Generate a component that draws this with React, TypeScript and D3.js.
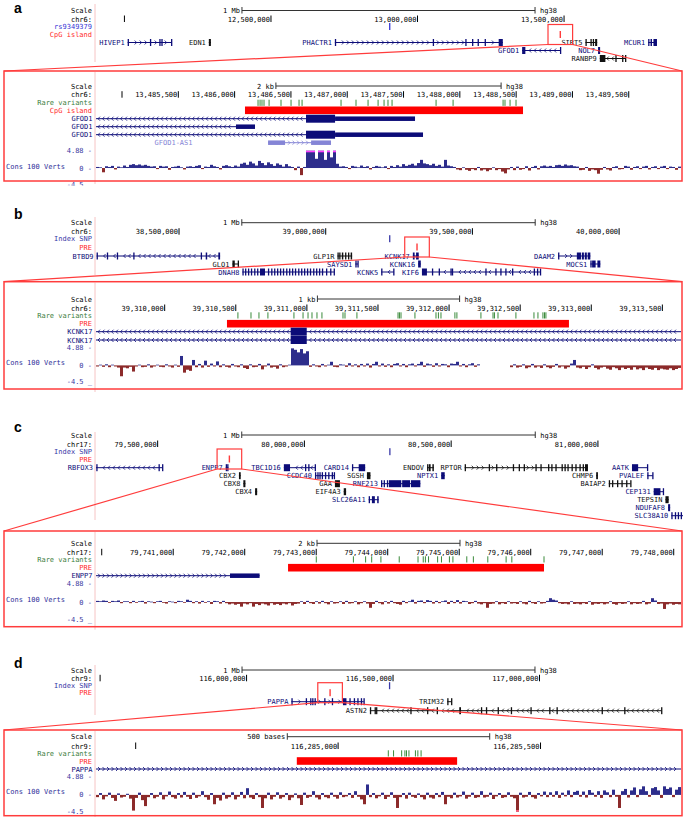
import React from "react";
import * as d3 from "d3";

type Exon = [number, number];
type Gene = { name: string; start: number; end: number; row: number; strand: number; kind: string; exons: Exon[] };
type Block = [number, number, number];
type Transcript = { name: string; start: number; end: number; row: number; strand: number; kind: string; blocks: Block[] };

// ================= DATA =================
const panelIds = ["a", "b", "c", "d"];
const chromNames = ["chr6", "chr6", "chr17", "chr9"];
const snpLabels = ["rs9349379", "Index SNP", "Index SNP", "Index SNP"];
const elementLabels = ["CpG island", "PRE", "PRE", "PRE"];

// overview windows (Mb)
const overviewDomainsMb: number[][] = [[11.903, 13.899], [38.217, 40.211], [79.29, 81.283], [115.486, 117.483]];
const overviewTickStep = 500000;
const overviewScaleBar = 1000000;
const overviewScaleLabel = "1 Mb";
const snpPositionsMb = [12.905, 39.218, 80.291, 116.488];
const elementOverviewMb = [13.4872, 39.3112, 79.7444, 116.2851];

const genesA: Gene[] = [
  { name: "HIVEP1", start: 12.011, end: 12.162, row: 0, strand: 1, kind: "coding", exons: [[12.011, 12.013], [12.087, 12.088], [12.119, 12.12], [12.126, 12.127], [12.159, 12.162]] },
  { name: "EDN1", start: 12.288, end: 12.295, row: 0, strand: 1, kind: "other", exons: [[12.288, 12.295]] },
  { name: "PHACTR1", start: 12.718, end: 13.291, row: 0, strand: 1, kind: "coding", exons: [[12.718, 12.72], [13.052, 13.053], [13.163, 13.164], [13.186, 13.187], [13.205, 13.206], [13.229, 13.23], [13.277, 13.291]] },
  { name: "GFOD1", start: 13.357, end: 13.487, row: 1, strand: -1, kind: "coding", exons: [[13.357, 13.368], [13.486, 13.487]] },
  { name: "SIRT5", start: 13.573, end: 13.613, row: 0, strand: 1, kind: "other", exons: [[13.573, 13.575], [13.59, 13.593], [13.598, 13.6], [13.606, 13.613]] },
  { name: "NOL7", start: 13.616, end: 13.623, row: 1, strand: 1, kind: "coding", exons: [[13.616, 13.623]] },
  { name: "RANBP9", start: 13.622, end: 13.709, row: 2, strand: -1, kind: "other", exons: [[13.622, 13.641], [13.675, 13.676], [13.698, 13.699], [13.708, 13.709]] },
  { name: "MCUR1", start: 13.787, end: 13.817, row: 0, strand: -1, kind: "coding", exons: [[13.787, 13.79], [13.795, 13.8], [13.805, 13.817]] },
];

const genesB: Gene[] = [
  { name: "BTBD9", start: 38.219, end: 38.64, row: 0, strand: -1, kind: "coding", exons: [[38.219, 38.22], [38.254, 38.255], [38.288, 38.289], [38.344, 38.345], [38.574, 38.578], [38.591, 38.596], [38.634, 38.64]] },
  { name: "GLO1", start: 38.682, end: 38.702, row: 1, strand: -1, kind: "other", exons: [[38.682, 38.69], [38.7, 38.702]] },
  { name: "DNAH8", start: 38.716, end: 39.028, row: 2, strand: 1, kind: "coding", exons: [[38.716, 38.717], [38.725, 38.726], [38.735, 38.736], [38.745, 38.746], [38.756, 38.757], [38.766, 38.767], [38.776, 38.793], [38.803, 38.804], [38.814, 38.815], [38.824, 38.825], [38.834, 38.835], [38.844, 38.845], [38.854, 38.855], [38.865, 38.866], [38.875, 38.876], [38.885, 38.886], [38.895, 38.896], [38.906, 38.907], [38.916, 38.917], [38.926, 38.927], [38.936, 38.937], [38.946, 38.947], [38.957, 38.958], [38.967, 38.968], [38.977, 38.978], [38.987, 38.988], [39.001, 39.002], [39.015, 39.016], [39.027, 39.028]] },
  { name: "GLP1R", start: 39.04, end: 39.09, row: 0, strand: 1, kind: "other", exons: [[39.04, 39.041], [39.046, 39.05], [39.055, 39.06], [39.066, 39.07], [39.076, 39.08], [39.085, 39.09]] },
  { name: "SAYSD1", start: 39.101, end: 39.11, row: 1, strand: 1, kind: "coding", exons: [[39.101, 39.102], [39.108, 39.11]] },
  { name: "KCNK5", start: 39.189, end: 39.232, row: 2, strand: -1, kind: "coding", exons: [[39.189, 39.191], [39.23, 39.232]] },
  { name: "KCNK17", start: 39.297, end: 39.317, row: 0, strand: -1, kind: "coding", exons: [[39.297, 39.303], [39.308, 39.317]] },
  { name: "KCNK16", start: 39.315, end: 39.324, row: 1, strand: -1, kind: "coding", exons: [[39.315, 39.324]] },
  { name: "KIF6", start: 39.328, end: 39.731, row: 2, strand: -1, kind: "coding", exons: [[39.328, 39.345], [39.362, 39.363], [39.385, 39.386], [39.425, 39.426], [39.43, 39.431], [39.544, 39.546], [39.578, 39.579], [39.595, 39.596], [39.612, 39.613], [39.635, 39.636], [39.709, 39.71], [39.72, 39.721], [39.73, 39.731]] },
  { name: "DAAM2", start: 39.792, end: 39.902, row: 0, strand: 1, kind: "coding", exons: [[39.792, 39.793], [39.856, 39.87], [39.873, 39.88], [39.883, 39.89], [39.893, 39.902]] },
  { name: "MOCS1", start: 39.902, end: 39.936, row: 1, strand: 1, kind: "coding", exons: [[39.902, 39.904], [39.908, 39.92], [39.926, 39.936]] },
];

const genesC: Gene[] = [
  { name: "RBFOX3", start: 79.29, end: 79.516, row: 0, strand: -1, kind: "coding", exons: [[79.291, 79.292], [79.503, 79.504], [79.515, 79.516]] },
  { name: "ENPP7", start: 79.732, end: 79.741, row: 0, strand: 1, kind: "coding", exons: [[79.732, 79.735], [79.737, 79.741]] },
  { name: "CBX2", start: 79.777, end: 79.783, row: 1, strand: 1, kind: "other", exons: [[79.777, 79.783]] },
  { name: "CBX8", start: 79.792, end: 79.799, row: 2, strand: -1, kind: "other", exons: [[79.792, 79.799]] },
  { name: "CBX4", start: 79.832, end: 79.839, row: 3, strand: -1, kind: "other", exons: [[79.832, 79.839]] },
  { name: "TBC1D16", start: 79.93, end: 80.036, row: 0, strand: -1, kind: "coding", exons: [[79.93, 79.951], [80.002, 80.003], [80.013, 80.014], [80.035, 80.036]] },
  { name: "CCDC40", start: 80.036, end: 80.101, row: 1, strand: 1, kind: "coding", exons: [[80.036, 80.037], [80.044, 80.045], [80.051, 80.052], [80.059, 80.06], [80.07, 80.071], [80.081, 80.082], [80.093, 80.094], [80.1, 80.101]] },
  { name: "GAA", start: 80.104, end: 80.121, row: 2, strand: 1, kind: "other", exons: [[80.104, 80.121]] },
  { name: "EIF4A3", start: 80.134, end: 80.142, row: 3, strand: 1, kind: "other", exons: [[80.134, 80.142]] },
  { name: "CARD14", start: 80.162, end: 80.207, row: 0, strand: 1, kind: "coding", exons: [[80.162, 80.165], [80.185, 80.207]] },
  { name: "SGSH", start: 80.213, end: 80.225, row: 1, strand: -1, kind: "other", exons: [[80.213, 80.225]] },
  { name: "SLC26A11", start: 80.219, end: 80.253, row: 4, strand: 1, kind: "coding", exons: [[80.219, 80.222], [80.23, 80.24], [80.248, 80.253]] },
  { name: "RNF213", start: 80.261, end: 80.395, row: 2, strand: 1, kind: "coding", exons: [[80.261, 80.262], [80.27, 80.271], [80.281, 80.282], [80.288, 80.33], [80.333, 80.36], [80.363, 80.395]] },
  { name: "ENDOV", start: 80.418, end: 80.441, row: 0, strand: 1, kind: "other", exons: [[80.418, 80.42], [80.424, 80.43], [80.436, 80.441]] },
  { name: "NPTX1", start: 80.466, end: 80.478, row: 1, strand: -1, kind: "coding", exons: [[80.466, 80.478]] },
  { name: "RPTOR", start: 80.546, end: 80.966, row: 0, strand: 1, kind: "other", exons: [[80.546, 80.547], [80.628, 80.629], [80.653, 80.654], [80.71, 80.711], [80.73, 80.731], [80.747, 80.748], [80.787, 80.788], [80.804, 80.805], [80.83, 80.831], [80.841, 80.842], [80.855, 80.856], [80.876, 80.88], [80.886, 80.89], [80.896, 80.9], [80.91, 80.914], [80.923, 80.924], [80.937, 80.938], [80.948, 80.949], [80.956, 80.966]] },
  { name: "CHMP6", start: 80.994, end: 81.0, row: 1, strand: 1, kind: "other", exons: [[80.994, 81.0]] },
  { name: "BAIAP2", start: 81.037, end: 81.111, row: 2, strand: 1, kind: "other", exons: [[81.037, 81.038], [81.048, 81.049], [81.065, 81.066], [81.08, 81.081], [81.096, 81.097], [81.11, 81.111]] },
  { name: "AATK", start: 81.116, end: 81.168, row: 0, strand: -1, kind: "coding", exons: [[81.116, 81.137], [81.167, 81.168]] },
  { name: "PVALEF", start: 81.168, end: 81.187, row: 1, strand: 1, kind: "coding", exons: [[81.168, 81.169], [81.185, 81.187]] },
  { name: "CEP131", start: 81.19, end: 81.224, row: 3, strand: -1, kind: "coding", exons: [[81.19, 81.213], [81.221, 81.223]] },
  { name: "TEPSIN", start: 81.23, end: 81.241, row: 4, strand: -1, kind: "other", exons: [[81.23, 81.241]] },
  { name: "NDUFAF8", start: 81.239, end: 81.246, row: 5, strand: 1, kind: "coding", exons: [[81.239, 81.246]] },
  { name: "SLC38A10", start: 81.25, end: 81.291, row: 6, strand: -1, kind: "coding", exons: [[81.25, 81.252], [81.262, 81.264], [81.272, 81.274], [81.282, 81.284]] },
];

const genesD: Gene[] = [
  { name: "PAPPA", start: 116.153, end: 116.4, row: 0, strand: 1, kind: "coding", exons: [[116.153, 116.155], [116.202, 116.203], [116.217, 116.218], [116.224, 116.225], [116.232, 116.233], [116.265, 116.266], [116.291, 116.292], [116.329, 116.341], [116.351, 116.352], [116.366, 116.367], [116.378, 116.379], [116.39, 116.391], [116.399, 116.4]] },
  { name: "TRIM32", start: 116.685, end: 116.7, row: 0, strand: 1, kind: "other", exons: [[116.685, 116.686], [116.698, 116.7]] },
  { name: "ASTN2", start: 116.421, end: 117.416, row: 1, strand: -1, kind: "other", exons: [[116.421, 116.422], [116.437, 116.438], [116.442, 116.443], [116.559, 116.56], [116.616, 116.617], [116.649, 116.65], [116.726, 116.732], [116.8, 116.801], [116.817, 116.818], [116.857, 116.858], [116.902, 116.903], [116.969, 116.97], [117.033, 117.034], [117.058, 117.059], [117.212, 117.213], [117.289, 117.29], [117.415, 117.416]] },
];

// detail windows (bp)
const detailDomains: number[][] = [[13484769, 13489964], [39309517, 39313631], [79739920, 79748102], [116284402, 116285847]];
const detailTickSteps = [500, 500, 1000, 500];
const detailScaleBars = [2000, 1000, 2000, 500];
const detailScaleLabels = ["2 kb", "1 kb", "2 kb", "500 bases"];
const elementRegions: number[][] = [[13486092, 13488561], [39310438, 39312843], [79742606, 79746186], [116284898, 116285294]];

const rareVariantsA = [13486208, 13486226, 13486243, 13486261, 13486306, 13486412, 13486501, 13486572, 13486599, 13486945, 13487078, 13487185, 13487274, 13487327, 13487362, 13487398, 13487789, 13487940, 13488384, 13488401, 13488446, 13488499];
const rareVariantsB = [39310515, 39310607, 39310663, 39310726, 39310909, 39310973, 39311008, 39311036, 39311071, 39311106, 39311254, 39311268, 39311352, 39311641, 39311651, 39311662, 39311760, 39311908, 39311925, 39311943, 39312041, 39312055, 39312224, 39312309, 39312319, 39312344, 39312470, 39312597, 39312625, 39312660, 39312671, 39312681];
const rareVariantsC = [79743001, 79743520, 79743691, 79743776, 79743905, 79744161, 79744424, 79744497, 79744527, 79744571, 79744698, 79744752, 79744863, 79744912, 79745106, 79745198, 79745400, 79745656, 79745736, 79746186];
const rareVariantsD = [116285124, 116285137, 116285157, 116285165, 116285169, 116285175, 116285191, 116285197, 116285205];

const transcriptsA: Transcript[] = [
  { name: "GFOD1", start: 13484700, end: 13487602, row: 0, strand: -1, kind: "coding", blocks: [[13486634, 13486892, 1], [13486892, 13487602, 0]] },
  { name: "GFOD1", start: 13484700, end: 13486181, row: 1, strand: -1, kind: "coding", blocks: [[13486012, 13486181, 0]] },
  { name: "GFOD1", start: 13484700, end: 13487673, row: 2, strand: -1, kind: "coding", blocks: [[13486634, 13486892, 1], [13486892, 13487673, 0]] },
  { name: "GFOD1-AS1", start: 13486297, end: 13486856, row: 3, strand: 1, kind: "nc", blocks: [[13486297, 13486448, 0], [13486679, 13486856, 0]] },
];
const transcriptsB: Transcript[] = [
  { name: "KCNK17", start: 39309400, end: 39313700, row: 0, strand: -1, kind: "coding", blocks: [[39310886, 39310999, 1]] },
  { name: "KCNK17", start: 39309400, end: 39313700, row: 1, strand: -1, kind: "coding", blocks: [[39310886, 39310999, 1]] },
];
const transcriptsC: Transcript[] = [
  { name: "ENPP7", start: 79739800, end: 79742208, row: 0, strand: 1, kind: "coding", blocks: [[79741794, 79742208, 0]] },
];
const transcriptsD: Transcript[] = [
  { name: "PAPPA", start: 116284300, end: 116286000, row: 0, strand: 1, kind: "coding", blocks: [] },
];

// Cons 100 Verts (phyloP), read across each detail window
const consA: (number | null)[] = [
  .3, .2, -1.2, .5, .3, .6, -.4, .4, .2, .7,
  .3, .9, 1.1, .8, 1.0, .7, .9, .6, .4, .5,
  -.3, .6, .4, .5, -.5, .3, .4, .6, .2, -.4,
  .4, .5, .3, .6, .8, -.3, .4, .3, .9, .5,
  .3, -.4, .6, .8, .5, .3, .7, .4, 1.2, 1.5,
  .9, 1.8, 1.3, .7, 2.0, 1.4, .8, 1.6, 1.1, .6,
  1.3, .9, .4, 1.1, .5, .3, -.6, .4, -2.0, .3,
  5.6, 5.6, 5.4, 2.6, 5.6, 5.2, 2.3, 5.6, 3.0, 5.6,
  1.2, .4, .5, .3, -.3, .6, .4, .2, .7, .3,
  .5, -.4, .3, .6, .4, .2, .5, -.3, .6, .3,
  .8, .4, 1.1, .6, .9, 1.2, .7, 1.4, 2.3, 1.3,
  1.1, .8, 1.2, .6, .9, .4, 2.3, .7, .5, .3,
  -.4, -.6, .2, -.5, -.8, -.3, -.6, .3, -.7, -.4,
  -.9, -.5, .2, -.6, -.3, -1.0, -1.5, -.4, .3, -.6,
  .4, -.5, -.3, .5, -.7, .3, .6, -.4, .5, .7,
  .4, .6, .3, .8, .9, .6, 1.0, .7, .8, .5,
  .4, -.6, -.5, .3, -.8, -.4, -.6, -1.6, -.5, .3,
  -.4, -.7, .3, .5, -.4, -.3, .6, .4, -.5, .3,
  .5, -.3, .4, .6, -.4, .3, .5, -.3, .4, .6,
  -.3, .4, .3, -.5, .4,
];
const consB: (number | null)[] = [
  -.3, .2, -.4, .3, -.5, .2, -.3, -.6, -3.0, -.6,
  -.8, -.4, -1.7, -.3, .2, -.5, -.4, .3, -.6, -.3,
  .2, -.4, -.5, .3, -.3, -.6, .2, -.4, 2.6, -2.0,
  -1.2, -1.5, 1.5, -.5, .4, -.6, 1.3, -.4, .5, -.3,
  1.1, -.5, .3, -.4, -.6, .4, -.3, -.5, .3, -.7,
  -1.0, .3, -.5, -.4, .4, -1.1, -.3, .5, -.6, -.4,
  -.9, .3, -.5, -.3, .2, 4.7, 4.3, 3.6, 4.5, 3.3,
  3.9, -.4, .3, -.3, -.5, .4, -.3, .2, 1.0, -.4,
  -.5, .3, .2, -.4, .6, -.3, .3, -.5, .4, -.3,
  .5, -.6, .4, 1.0, -.3, .5, -.4, .3, -.5, .4,
  .6, -.3, .4, -.5, .3, .5, -.3, .4, 1.0, -.4,
  .5, .3, -.4, .6, -.3, .4, .3, -.5, .5, .4,
  1.0, -.3, .4, -.5, .3, .6, -.4, .3, null, null,
  null, null, null, null, null, null, null, null, -.5, .3,
  -.6, -.4, .3, -.8, -.5, .4, -.6, -.3, -.7, .3,
  -.5, -.8, -.4, .4, -.6, -.3, -.9, -.5, .5, 1.5,
  -.6, -.8, -.4, -1.0, -.5, .3, -.7, -1.1, -.6, -.4,
  -.9, -1.2, -.5, -.8, -1.3, -.6, -1.0, -.7, -1.2, -.5,
  -1.1, -.8, -1.3, -.6, -1.0, -1.2, -.7, -1.3, -.9, -1.1,
  -1.2, -.8, -1.3, -1.0, -.7,
];
const consC: (number | null)[] = [
  .3, .2, .4, .3, -.2, .3, .2, .4, -.3, .2,
  .2, -.3, .3, -.2, .2, .3, -.4, .2, .1, -.3,
  .2, .3, -.2, -.4, .2, .1, -.3, .3, .2, -.2,
  .6, .3, -.3, .2, -.4, .3, -.2, .2, -.5, .3,
  .2, -.4, .3, -.3, -.6, -.4, -.7, -.5, -1.2, -.4,
  -.6, -.3, -1.2, -.5, -.8, -.4, -.6, -.9, -.3, -.7,
  -.5, -.8, -.4, -.6, -.3, -.9, -.5, -.4, .2, -.5,
  .3, -.3, -.5, .2, -.4, .3, -.3, -.6, .2, -.4,
  -.3, .2, -.5, .3, -.4, -.3, .2, -.6, -.3, .2,
  -.4, -1.5, -.5, .3, -.3, -.6, .2, -.4, .3, -.3,
  -.5, -.7, .3, -.3, .2, .6, -.4, .3, .4, -.3,
  .5, .3, -.4, .3, -.3, .2, .4, -.5, .3, -.3,
  .5, -.4, .3, .2, -.5, -.3, .3, -.4, -.6, -.3,
  -1.5, -.5, -.4, .2, -.6, -.3, -.5, .2, -.4, -.3,
  -.5, .2, -.4, -.6, .3, -.3, -.5, .2, -.4, -.3,
  .3, 1.0, .6, .4, -.3, -.5, -.4, -.6, .2, -.5,
  -.4, -.6, -.3, -.5, .2, -.7, -.4, -.5, -.3, -.6,
  -.4, .2, -.5, -.7, -.3, -.5, -.4, .2, -.6, -.3,
  -.5, -.4, .3, -.6, -.4, 1.0, .4, -.5, -.4, -1.8,
  -.6, -.4, -.7, -.5, -.6,
];
const consD: (number | null)[] = [
  -.6, .5, -1.2, -.4, .6, -.8, -1.6, .4, -.7, -.5,
  .3, -1.0, -4.2, -.8, .6, -1.4, -3.0, -.6, .5, -.9,
  -.5, .7, -1.2, -.4, .9, -.6, -1.0, .5, -.7, .8,
  -.5, -1.1, .6, -.8, -.4, 1.0, -.6, -1.3, .5, -2.5,
  -.8, -1.5, .6, -1.0, -.6, .7, -1.2, -.5, .8, -.9,
  1.8, -.7, -1.1, .5, -.6, -3.5, -.9, .6, -1.2, -.5,
  .7, -1.0, -.6, .5, -1.4, -.7, .4, -.9, -2.7, .6,
  -.8, -.5, 1.0, -.7, -1.2, .5, -.6, -.9, .6, -.5,
  -1.0, .7, -.6, -.4, .5, -.8, 1.0, -.5, -1.2, -2.5,
  2.8, -.6, .5, -.9, -.4, .6, -1.1, -.5, .7, -.8,
  -3.5, -.6, .5, -1.0, .6, -.5, -.8, .4, -.6, -1.2,
  .6, -.7, -1.0, .5, -.6, .8, -2.5, -.5, -.9, .6,
  -.7, -.4, .9, -1.0, -.5, .6, -.8, -.6, 1.0, -.7,
  -.5, .6, -1.1, -.4, .5, -.8, -.6, .7, -.5, -.9,
  -5.5, .6, -.7, -.5, .8, -.6, -1.0, .5, -.4, .9,
  -.6, .7, -.5, 1.0, -.8, .6, -.4, 1.2, -.6, .8,
  1.1, -.5, .9, -.7, 1.3, .6, -.5, 1.0, -.8, 1.2,
  .7, -.6, 1.4, -.5, -3.5, 1.0, 1.6, -.7, 1.2, 2.0,
  -.6, 1.5, 2.3, 1.0, -.5, 1.8, 2.1, 1.2, -.8, 2.3,
  1.6, 2.0, -.6, 1.4, 2.1,
];
const consRange = [-4.5, 4.88];
const consLabels = ["4.88 -", "0 -", "-4.5 _"];

const genesByPanel = [genesA, genesB, genesC, genesD];
const variantsByPanel = [rareVariantsA, rareVariantsB, rareVariantsC, rareVariantsD];
const transcriptsByPanel = [transcriptsA, transcriptsB, transcriptsC, transcriptsD];
const consByPanel = [consA, consB, consC, consD];

// ================= LAYOUT / STYLE =================
const FONT = "'DejaVu Sans Mono', 'Liberation Mono', monospace";
const FS = 7;
const CHAR_W = 4.21;
const X0 = 96, X1 = 681, LABEL_X = 92;
const PINK = "#f6c4c4";
const RED = "#ff3c3c";
const COLORS: Record<string, string> = { coding: "#0c0c78", other: "#111111", nc: "#8585d6" };
const POS_COL = "#2d2d8c", NEG_COL = "#8c2a2a";

const LAYOUT = [
  {
    letterY: 13, top: { scale: 10.5, chr: 19, snp: 26.5, elem: 34.5, rows: [42.5, 50.5, 58.5], pink: [4, 62] },
    lower: { top: 71, bottom: 181, scale: 86, chr: 94.7, rare: 102.7, elem: 110.3, rows: [118.7, 126.7, 134.7, 142.7], max: 150.7, min: 184, consLabel: 166.7, clip: 185.5 },
  },
  {
    letterY: 219, top: { scale: 222.7, chr: 231.7, snp: 238.7, elem: 247, rows: [256, 264, 272], pink: [217, 275] },
    lower: { top: 281.7, bottom: 389, scale: 299, chr: 308, rare: 315.3, elem: 323.7, rows: [331.7, 340], max: 347.7, min: 381.7, consLabel: 362.7, clip: 400 },
  },
  {
    letterY: 432, top: { scale: 435, chr: 444, snp: 451.7, elem: 459, rows: [467.7, 475.7, 483.7, 491.7, 499.7, 507.7, 515.7], pink: [432, 520] },
    lower: { top: 531, bottom: 626.7, scale: 543.3, chr: 552.3, rare: 559.3, elem: 567.7, rows: [575.7], max: 583.3, min: 619.3, consLabel: 599, clip: 640 },
  },
  {
    letterY: 668, top: { scale: 670, chr: 678.3, snp: 685.7, elem: 692.7, rows: [701.7, 710.7], pink: [665, 715] },
    lower: { top: 730, bottom: 815.7, scale: 736.7, chr: 746, rare: 753.3, elem: 761, rows: [769], max: 776.7, min: 811.7, consLabel: 791.7, clip: 817 },
  },
];

const fmt = d3.format(",");

function LeftLabel({ y, text, color = "#000" }: { y: number; text: string; color?: string }) {
  return <text x={LABEL_X} y={y + 2.5} textAnchor="end" fontSize={FS} fill={color}>{text}</text>;
}

function ScaleBar({ scale, span, y, label }: { scale: any; span: number; y: number; label: string }) {
  const [r0, r1] = scale.range();
  const c = (r0 + r1) / 2;
  const len = scale(scale.domain()[0] + span) - r0;
  const a = c - len / 2, b = c + len / 2;
  return (
    <g>
      <text x={a - 2} y={y + 2.5} textAnchor="end" fontSize={FS}>{label}</text>
      <line x1={a} x2={b} y1={y} y2={y} stroke="#333" />
      <line x1={a} x2={a} y1={y - 3.5} y2={y + 3} stroke="#333" />
      <line x1={b} x2={b} y1={y - 3.5} y2={y + 3} stroke="#333" />
      <text x={b + 5} y={y + 2.5} fontSize={FS}>hg38</text>
    </g>
  );
}

function Ticks({ scale, step, y }: { scale: any; step: number; y: number }) {
  const [a, b] = scale.domain();
  const vals = d3.range(Math.ceil(a / step) * step, b, step);
  return (
    <g>
      {vals.map((v) => {
        const x = scale(v);
        const s = fmt(Math.round(v));
        const w = s.length * CHAR_W;
        return (
          <g key={v}>
            <line x1={x} x2={x} y1={y - 3.5} y2={y + 3} stroke="#000" />
            {x - w - 1 >= X0 - 3 ? <text x={x - 1} y={y + 2.5} textAnchor="end" fontSize={FS}>{s}</text> : null}
          </g>
        );
      })}
    </g>
  );
}

function chevronPath(x1: number, x2: number, y: number, strand: number, skip: number[][], gap: number) {
  let d = "";
  for (let x = x1 + 3; x <= x2 - 2; x += gap) {
    if (skip.some(([a, b]) => x >= a - 2 && x <= b + 2)) continue;
    d += strand > 0 ? `M${x - 1},${y - 2}L${x + 1},${y}L${x - 1},${y + 2}` : `M${x + 1},${y - 2}L${x - 1},${y}L${x + 1},${y + 2}`;
  }
  return d;
}

function GeneOverview({ g, mx, rows }: { g: Gene; mx: (v: number) => number; rows: number[] }) {
  const y = rows[g.row];
  const color = COLORS[g.kind];
  const xs = Math.max(X0, mx(g.start));
  const xe = Math.min(X1 + 2, mx(g.end));
  const ex = g.exons.map(([s, e]) => {
    const a = mx(s), b = mx(e);
    const w = Math.max(1.3, b - a);
    return [Math.max(a, X0), Math.max(a, X0) + w];
  });
  return (
    <g>
      <text x={xs - 3} y={y + 2.5} textAnchor="end" fontSize={FS} fill={color}>{g.name}</text>
      <line x1={xs} x2={xe} y1={y} y2={y} stroke={color} strokeWidth={1} />
      <path d={chevronPath(xs, xe, y, g.strand, ex, 5)} fill="none" stroke={color} strokeWidth={0.8} />
      {ex.map(([a, b], i) => <rect key={i} x={a} y={y - 3.5} width={b - a} height={7} fill={color} />)}
    </g>
  );
}

function TranscriptDetail({ t, xd, rows }: { t: Transcript; xd: any; rows: number[] }) {
  const y = rows[t.row];
  const color = COLORS[t.kind];
  const xs = Math.max(X0, xd(t.start));
  const xe = Math.min(X1, xd(t.end));
  const bl = t.blocks.map(([s, e, th]) => [xd(s), xd(e), th]);
  return (
    <g>
      <text x={Math.min(xs, X0 + 100) - 3.5} y={y + 2.5} textAnchor="end" fontSize={FS} fill={color}>{t.name}</text>
      <line x1={xs} x2={xe} y1={y} y2={y} stroke={color} strokeWidth={1} />
      <path d={chevronPath(xs, xe, y, t.strand, bl, 4.5)} fill="none" stroke={color} strokeWidth={0.8} />
      {bl.map(([a, b, th], i) => {
        const h = th ? 8 : 4.5;
        return <rect key={i} x={a} y={y - h / 2} width={b - a} height={h} fill={color} />;
      })}
    </g>
  );
}

function ConsTrack({ values, max, min }: { values: (number | null)[]; max: number; min: number }) {
  const xi = d3.scaleLinear().domain([0, values.length]).range([X0, X1]);
  const yv = d3.scaleLinear().domain(consRange).range([min, max]).clamp(true);
  const y0 = yv(0);
  return (
    <g>
      {values.map((v, i) => {
        if (v === null) return null;
        const x = xi(i), w = xi(i + 1) - xi(i);
        const y1 = yv(v);
        const top = Math.min(y0, y1);
        const h = Math.max(0.7, Math.abs(y1 - y0));
        return (
          <g key={i}>
            <rect x={x} y={top} width={w} height={h} fill={v >= 0 ? POS_COL : NEG_COL} />
            {v > consRange[1] ? <rect x={x} y={yv(consRange[1])} width={w} height={1.6} fill="#ff40ff" /> : null}
            {v < consRange[0] ? <rect x={x} y={yv(consRange[0]) - 1.6} width={w} height={1.6} fill="#ff6080" /> : null}
          </g>
        );
      })}
    </g>
  );
}

function Panel({ p }: { p: number }) {
  const L = LAYOUT[p];
  const T = L.top, D = L.lower;
  const [o0, o1] = overviewDomainsMb[p];
  const xo = d3.scaleLinear().domain([o0 * 1e6, o1 * 1e6]).range([X0, X1]);
  const mx = (v: number) => xo(v * 1e6);
  const [d0, d1] = detailDomains[p];
  const xd = d3.scaleLinear().domain([d0, d1]).range([X0, X1]);
  const ex = mx(elementOverviewMb[p]);
  const bL = ex - 12.3, bR = ex + 12.3, bT = T.elem - 10, bB = T.elem + 10;
  const snpX = mx(snpPositionsMb[p]);
  const [e0, e1] = elementRegions[p];
  const yv = d3.scaleLinear().domain(consRange).range([D.min, D.max]);
  const clipId = `clip-${p}`;
  return (
    <g>
      <defs>
        <clipPath id={clipId}><rect x={0} y={D.top - 2} width={684} height={D.clip - D.top + 2} /></clipPath>
      </defs>
      <text x={14} y={L.letterY} fontFamily="'Liberation Sans', Arial, sans-serif" fontWeight="bold" fontSize={14}>{panelIds[p]}</text>
      {/* ---------- overview ---------- */}
      <line x1={95} x2={95} y1={T.pink[0]} y2={T.pink[1]} stroke={PINK} strokeWidth={1} />
      <LeftLabel y={T.scale} text="Scale" />
      <ScaleBar scale={xo} span={overviewScaleBar} y={T.scale} label={overviewScaleLabel} />
      <LeftLabel y={T.chr} text={chromNames[p] + ":"} />
      <Ticks scale={xo} step={overviewTickStep} y={T.chr} />
      <LeftLabel y={T.snp} text={snpLabels[p]} color={p === 0 ? "#3434d4" : "#3a3aa8"} />
      <rect x={snpX - 0.6} y={T.snp - 3.5} width={1.3} height={7} fill={p === 0 ? "#3434d4" : "#3a3aa8"} />
      <LeftLabel y={T.elem} text={elementLabels[p]} color="#ff2a2a" />
      <rect x={ex - 0.7} y={T.elem - 3.5} width={1.4} height={7} fill={RED} />
      {genesByPanel[p].map((g, i) => <GeneOverview key={i} g={g} mx={mx} rows={T.rows} />)}
      {/* zoom highlight */}
      <rect x={bL} y={bT} width={bR - bL} height={bB - bT} fill="none" stroke={RED} strokeWidth={1.2} />
      <line x1={bL} y1={bB} x2={4} y2={D.top} stroke={RED} strokeWidth={1.2} />
      <line x1={bR} y1={bB} x2={682} y2={D.top} stroke={RED} strokeWidth={1.2} />
      {/* ---------- detail ---------- */}
      <g clipPath={`url(#${clipId})`}>
        <line x1={95} x2={95} y1={D.top + 1} y2={D.bottom + 3} stroke={PINK} strokeWidth={1} />
        <LeftLabel y={D.scale} text="Scale" />
        <ScaleBar scale={xd} span={detailScaleBars[p]} y={D.scale} label={detailScaleLabels[p]} />
        <LeftLabel y={D.chr} text={chromNames[p] + ":"} />
        <Ticks scale={xd} step={detailTickSteps[p]} y={D.chr} />
        <LeftLabel y={D.rare} text="Rare variants" color="#3d7d3d" />
        {variantsByPanel[p].map((v, i) => (
          <line key={i} x1={xd(v)} x2={xd(v)} y1={D.rare - 3} y2={D.rare + 3.2} stroke="#3a8a3a" strokeWidth={1} />
        ))}
        <LeftLabel y={D.elem} text={elementLabels[p]} color="#ff2a2a" />
        <rect x={xd(e0)} y={D.elem - 3.8} width={xd(e1) - xd(e0)} height={7.6} fill="#ff0000" />
        {transcriptsByPanel[p].map((t, i) => <TranscriptDetail key={i} t={t} xd={xd} rows={D.rows} />)}
        <LeftLabel y={D.max} text={consLabels[0]} color="#3a3aa0" />
        <LeftLabel y={yv(0)} text={consLabels[1]} color="#3a3aa0" />
        <LeftLabel y={D.min} text={consLabels[2]} color="#3a3aa0" />
        <text x={6} y={D.consLabel + 2.5} fontSize={FS} fill="#30309a">Cons 100 Verts</text>
        <ConsTrack values={consByPanel[p]} max={D.max} min={D.min} />
      </g>
      <rect x={4} y={D.top} width={678} height={D.bottom - D.top} fill="none" stroke={RED} strokeWidth={1.5} />
    </g>
  );
}

export default function App() {
  return (
    <div style={{ position: "absolute", left: 0, top: 0, width: 684, height: 817, background: "#fff" }}>
      <svg width={684} height={817} style={{ display: "block" }} fontFamily={FONT}>
        <rect width={684} height={817} fill="#fff" />
        {panelIds.map((id, p) => <Panel key={id} p={p} />)}
      </svg>
    </div>
  );
}
